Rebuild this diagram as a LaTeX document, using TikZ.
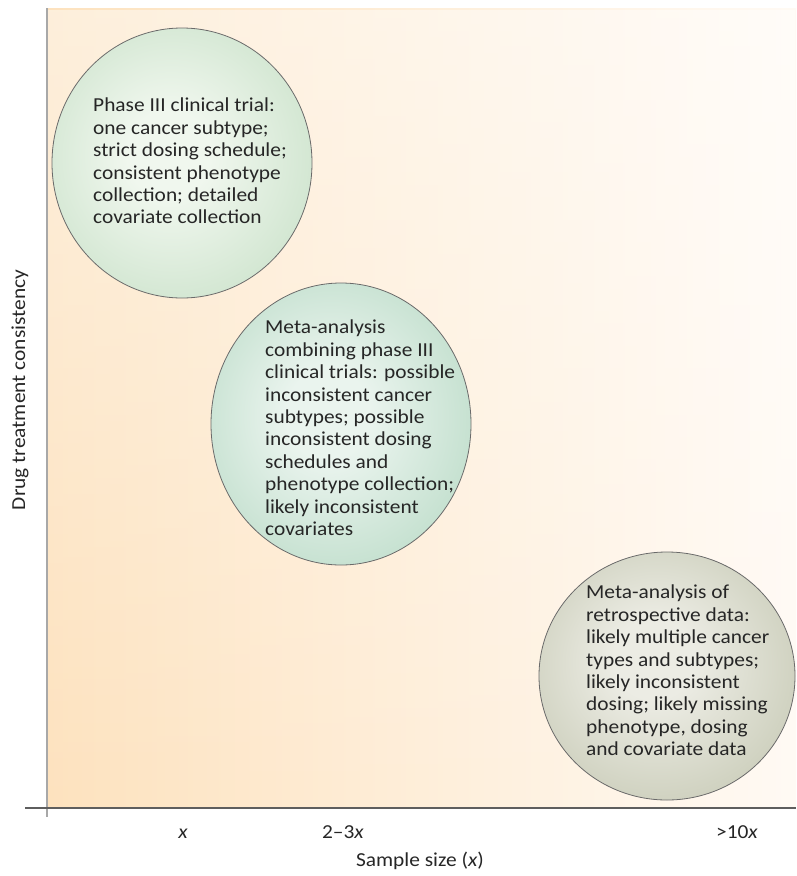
\documentclass[tikz,border=0pt]{standalone}
\usepackage{fontspec}
\setmainfont{Carlito}[FakeStretch=1.08]
\usetikzlibrary{fadings}
\definecolor{bgL}{HTML}{FDE2BE}
\definecolor{bgR}{HTML}{FFFAF4}
\definecolor{eAin}{HTML}{F0F7EE}
\definecolor{eAout}{HTML}{A9CFAA}
\definecolor{eBin}{HTML}{EAF4EE}
\definecolor{eBout}{HTML}{92C6A6}
\definecolor{eCin}{HTML}{ECECE4}
\definecolor{eCout}{HTML}{A8AD8E}
\definecolor{txt}{HTML}{262626}
\definecolor{yaxis}{HTML}{A8A8A8}
\definecolor{xaxis}{HTML}{5E5E5E}
\definecolor{rim}{HTML}{6A6A6A}
\pgfdeclareradialshading{shA}{\pgfpoint{-3bp}{2bp}}{color(0bp)=(eAin); color(8bp)=(eAin); color(54bp)=(eAout)}
\pgfdeclareradialshading{shB}{\pgfpoint{-3bp}{2bp}}{color(0bp)=(eBin); color(8bp)=(eBin); color(54bp)=(eBout)}
\pgfdeclareradialshading{shC}{\pgfpoint{-3bp}{4bp}}{color(0bp)=(eCin); color(8bp)=(eCin); color(54bp)=(eCout)}
\begin{document}
\begin{tikzpicture}[x=1pt,y=-1pt,
  etext/.style={anchor=north west, inner sep=0pt, align=left,
    font=\fontsize{19.8}{22.4}\selectfont, text=txt},
  alabel/.style={inner sep=0pt, font=\fontsize{19.8}{24}\selectfont, text=txt},
  bubble/.style={draw=rim, line width=0.8pt}]
\useasboundingbox (0,0) rectangle (796,876);
% background
\shade[left color=bgL, right color=bgR] (47,8) rectangle (796,808);
\fill[white, fill opacity=0.45, path fading=south] (47,8) rectangle (796,808);
% axes
\coordinate (ytop) at (47,8);
\coordinate (ybot) at (47,817);
\coordinate (xleft) at (25,808);
\coordinate (xright) at (796,808);
\draw[yaxis, line width=2pt] (ytop) -- (ybot);
% bubbles
\shade[shading=shA, bubble] (182,163) ellipse [x radius=130, y radius=135];
\shade[shading=shB, bubble] (341,424) ellipse [x radius=130, y radius=141];
\shade[shading=shC, bubble] (667,676) ellipse [x radius=128, y radius=124];
\draw[xaxis, line width=1.2pt] (xleft) -- (xright);
% bubble texts
\node[etext] (tA) at (93,98) {Phase III clinical trial:\\one cancer subtype;\\strict dosing schedule;\\consistent phenotype\\collection; detailed\\covariate collection};
\node[etext] (tB) at (265,320) {Meta-analysis\\combining phase III\\clinical trials: possible\\inconsistent cancer\\subtypes; possible\\inconsistent dosing\\schedules and\\phenotype collection;\\likely inconsistent\\covariates};
\node[etext] (tC) at (586,585) {Meta-analysis of\\retrospective data:\\likely multiple cancer\\types and subtypes;\\likely inconsistent\\dosing; likely missing\\phenotype, dosing\\and covariate data};
% axis labels
\node[alabel, rotate=90] (ylab) at (20,390) {Drug treatment consistency};
\node[alabel, anchor=base] (tk1) at (183,838) {\textit{x}};
\node[alabel, anchor=base] (tk2) at (343,838) {2–3\textit{x}};
\node[alabel, anchor=base] (tk3) at (737,838) {>10\textit{x}};
\node[alabel, anchor=base] (xlab) at (420,866) {Sample size (\textit{x})};
\end{tikzpicture}
\end{document}
